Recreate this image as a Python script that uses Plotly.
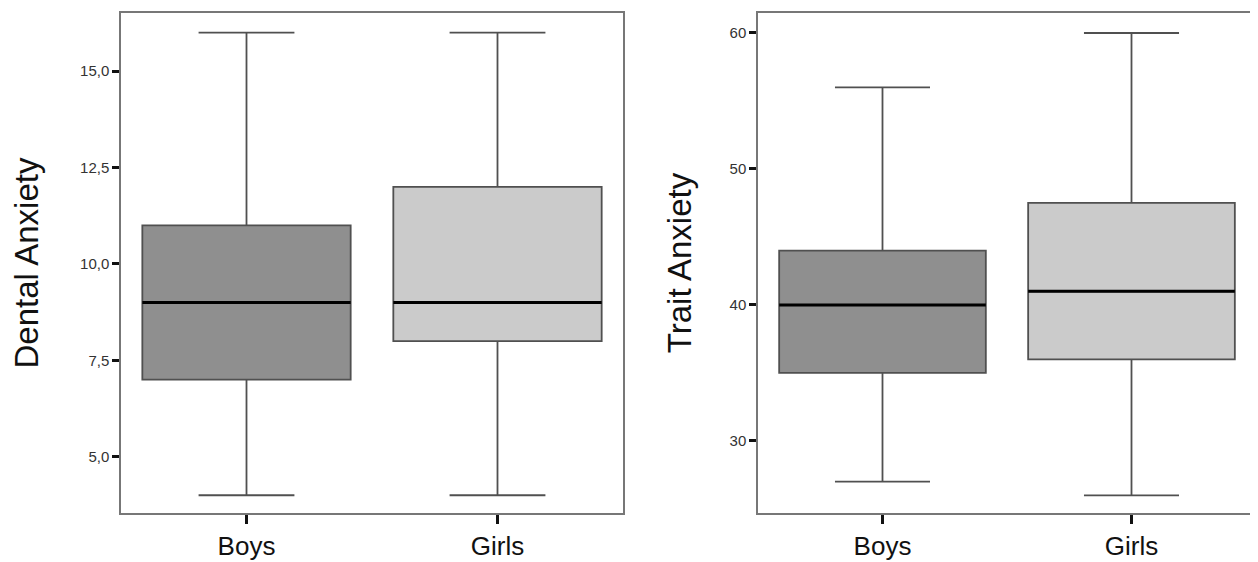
import plotly.graph_objects as go

groups = ["Boys", "Girls"]
fills = ["#8f8f8f", "#cbcbcb"]

# Dental Anxiety
dental_min = [4, 4]
dental_q1 = [7, 8]
dental_med = [9, 9]
dental_q3 = [11, 12]
dental_max = [16, 16]
dental_ticks = [5.0, 7.5, 10.0, 12.5, 15.0]

# Trait Anxiety
trait_min = [27, 26]
trait_q1 = [35, 36]
trait_med = [40, 41]
trait_q3 = [44, 47.5]
trait_max = [56, 60]
trait_ticks = [30, 40, 50, 60]

fig = go.Figure()

def add_panel(xa, ya, mins, q1s, meds, q3s, maxs):
    for i, g in enumerate(groups):
        fig.add_trace(go.Box(
            x=[g], q1=[q1s[i]], median=[meds[i]], q3=[q3s[i]],
            lowerfence=[mins[i]], upperfence=[maxs[i]],
            fillcolor=fills[i], line=dict(color="#505050", width=1.8),
            whiskerwidth=0.46, boxpoints=False, showlegend=False,
            xaxis=xa, yaxis=ya, hoverinfo="skip"))
        # median emphasised as a thick black line
        fig.add_trace(go.Box(
            x=[g], q1=[meds[i]], median=[meds[i]], q3=[meds[i]],
            lowerfence=[meds[i]], upperfence=[meds[i]],
            fillcolor="rgba(0,0,0,0)", line=dict(color="#000000", width=3),
            whiskerwidth=0, boxpoints=False, showlegend=False,
            xaxis=xa, yaxis=ya, hoverinfo="skip"))

add_panel("x", "y", dental_min, dental_q1, dental_med, dental_q3, dental_max)
add_panel("x2", "y2", trait_min, trait_q1, trait_med, trait_q3, trait_max)

# page has an 8px body margin, so the figure is laid out 8px up/left
W, H = 1250, 554
ydom = [(H - 505) / H, (H - 5) / H]

FONT = "Liberation Sans, Arial"
xcommon = dict(type="category", categoryorder="array", categoryarray=groups,
               range=[-0.5, 1.5], showline=True, mirror=True, linecolor="#777777",
               linewidth=1.5, ticks="outside", ticklen=9, tickwidth=2.5,
               tickcolor="#111111", showgrid=False, zeroline=False,
               tickfont=dict(family=FONT, size=26, color="#111111"))
ycommon = dict(showline=True, mirror=True, linecolor="#777777", linewidth=1.5,
               ticks="outside", ticklen=7, tickwidth=2.5, tickcolor="#111111",
               showgrid=False, zeroline=False,
               tickfont=dict(family=FONT, size=15, color="#333333"))

fig.update_layout(
    width=W, height=H,
    margin=dict(l=0, r=0, t=0, b=0),
    paper_bgcolor="white", plot_bgcolor="white",
    boxgap=0.17, boxgroupgap=0, boxmode="overlay",
    separators=",.",
    xaxis=dict(domain=[113 / W, 615 / W], anchor="y", **xcommon),
    xaxis2=dict(domain=[750 / W, 1248 / W], anchor="y2", **xcommon),
    yaxis=dict(domain=ydom, anchor="x", range=[3.54, 16.51], tickvals=dental_ticks,
               tickformat=".1f",
               title=dict(text="Dental Anxiety", standoff=33,
                          font=dict(family=FONT, size=33, color="#111111")),
               **ycommon),
    yaxis2=dict(domain=ydom, anchor="x2", range=[24.7, 61.47], tickvals=trait_ticks,
                tickformat="d",
                title=dict(text="Trait Anxiety", standoff=28,
                           font=dict(family=FONT, size=33, color="#111111")),
                **ycommon),
)

fig.write_html("out.html")
